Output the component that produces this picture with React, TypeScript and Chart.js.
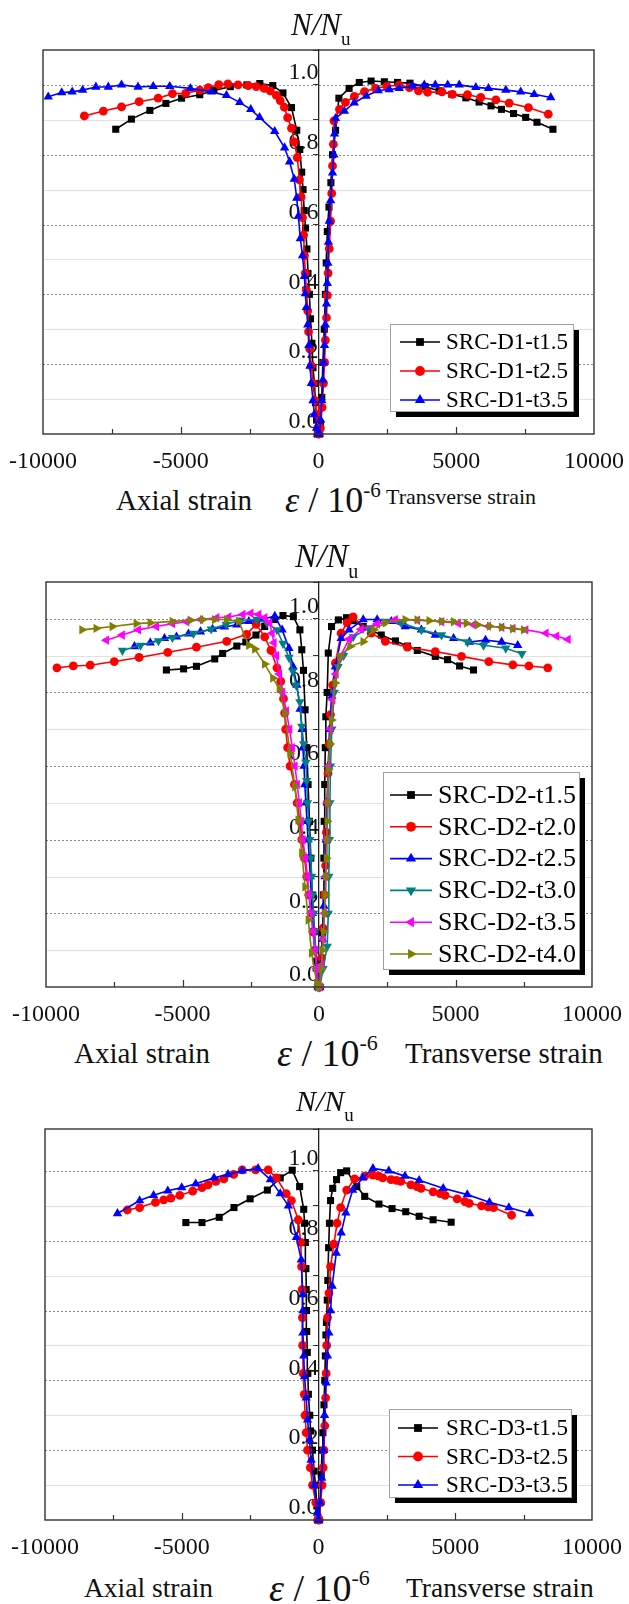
import React, { useEffect, useRef } from 'react';
import { Chart, registerables } from 'chart.js';

Chart.register(...registerables);

type Pair = [number, number];

// Strain in microstrain (negative = axial, positive = transverse), load ratio N/Nu.

// ---- SRC-D1 ----
const D1_T15_AXIAL: Pair[] = [[-40,0],[-70,0.04],[-110,0.09],[-150,0.145],[-200,0.19],[-240,0.26],[-290,0.33],[-330,0.4],[-380,0.46],[-420,0.53],[-470,0.59],[-520,0.64],[-560,0.7],[-610,0.75],[-680,0.815],[-790,0.87],[-980,0.935],[-1290,0.977],[-1660,0.998],[-2130,1.004],[-2600,1.0],[-3200,0.995],[-3800,0.984],[-4310,0.972],[-4970,0.962],[-5540,0.947],[-6120,0.927],[-6790,0.902],[-7360,0.873]];
const D1_T15_TRANS: Pair[] = [[40,0],[70,0.03],[120,0.105],[160,0.205],[210,0.3],[250,0.4],[280,0.49],[320,0.58],[380,0.65],[450,0.72],[510,0.8],[620,0.87],[740,0.962],[1110,0.99],[1480,1.007],[1910,1.011],[2390,1.009],[2870,1.007],[3320,1.005],[3870,0.995],[4380,0.983],[4840,0.973],[5350,0.963],[5830,0.951],[6260,0.94],[6640,0.93],[7080,0.918],[7520,0.907],[7930,0.893],[8510,0.873]];
const D1_T25_AXIAL: Pair[] = [[-10,0],[-30,0.017],[-70,0.056],[-130,0.096],[-200,0.145],[-260,0.195],[-320,0.244],[-360,0.293],[-390,0.353],[-440,0.412],[-480,0.461],[-510,0.511],[-540,0.57],[-580,0.62],[-630,0.679],[-690,0.728],[-770,0.792],[-880,0.837],[-980,0.876],[-1120,0.906],[-1240,0.936],[-1390,0.955],[-1530,0.97],[-1750,0.983],[-1970,0.99],[-2260,0.995],[-2550,0.998],[-2920,1.0],[-3290,1.003],[-3620,1.001],[-4000,0.992],[-4310,0.985],[-4820,0.976],[-5300,0.975],[-5820,0.962],[-6510,0.952],[-7150,0.937],[-7810,0.925],[-8500,0.911]];
const D1_T25_TRANS: Pair[] = [[20,0],[70,0.017],[130,0.076],[180,0.145],[220,0.205],[250,0.269],[290,0.333],[320,0.397],[350,0.461],[390,0.531],[440,0.61],[480,0.689],[510,0.768],[540,0.83],[560,0.897],[760,0.93],[980,0.95],[1300,0.967],[1670,0.981],[2070,0.99],[2480,0.996],[2930,0.999],[3300,0.992],[3630,0.983],[3960,0.979],[4480,0.98],[4860,0.973],[5410,0.972],[5890,0.964],[6440,0.957],[6920,0.948],[7620,0.935],[8340,0.916]];
const D1_T35_AXIAL: Pair[] = [[-30,0],[-70,0.017],[-150,0.056],[-200,0.096],[-260,0.145],[-310,0.195],[-350,0.254],[-390,0.313],[-440,0.363],[-480,0.402],[-510,0.452],[-580,0.511],[-660,0.56],[-730,0.624],[-790,0.676],[-880,0.73],[-1050,0.78],[-1230,0.82],[-1590,0.867],[-2140,0.907],[-2460,0.93],[-2860,0.95],[-3340,0.97],[-3890,0.98],[-4650,0.99],[-5400,0.996],[-6000,0.996],[-6550,0.994],[-7150,1.0],[-7630,0.994],[-8080,0.994],[-8560,0.985],[-8940,0.98],[-9320,0.978],[-9810,0.966]];
const D1_T35_TRANS: Pair[] = [[30,0],[80,0.04],[120,0.096],[160,0.155],[190,0.205],[220,0.254],[250,0.313],[290,0.373],[320,0.432],[340,0.49],[360,0.55],[390,0.61],[440,0.669],[510,0.748],[560,0.8],[580,0.86],[620,0.904],[940,0.925],[1300,0.949],[1730,0.968],[2170,0.984],[2570,0.987],[2930,0.99],[3410,0.997],[3840,1.0],[4240,1.0],[4690,1.0],[5110,1.0],[5710,0.993],[6170,0.99],[6800,0.985],[7340,0.98],[7830,0.973],[8430,0.964]];

// ---- SRC-D2 ----
const D2_T15_AXIAL: Pair[] = [[-30,0],[-100,0.07],[-180,0.15],[-250,0.25],[-300,0.35],[-350,0.45],[-400,0.55],[-450,0.65],[-510,0.753],[-570,0.86],[-630,0.916],[-700,0.97],[-940,1.006],[-1320,1.009],[-1620,0.998],[-1990,0.979],[-2310,0.956],[-2680,0.937],[-3010,0.926],[-3530,0.906],[-3820,0.891],[-4490,0.871],[-4960,0.864],[-5590,0.861]];
const D2_T15_TRANS: Pair[] = [[30,0],[80,0.07],[130,0.147],[160,0.25],[180,0.35],[190,0.45],[210,0.55],[230,0.65],[250,0.734],[300,0.8],[340,0.907],[460,0.979],[710,0.997],[1010,1.003],[1250,0.995],[1620,0.979],[2280,0.956],[2800,0.94],[3240,0.926],[3600,0.914],[4260,0.898],[4710,0.889],[5150,0.872],[5660,0.861]];
const D2_T20_AXIAL: Pair[] = [[-30,0],[-80,0.05],[-150,0.1],[-220,0.15],[-270,0.2],[-370,0.25],[-450,0.3],[-530,0.35],[-630,0.4],[-700,0.45],[-800,0.5],[-900,0.55],[-1060,0.6],[-1150,0.65],[-1220,0.7],[-1260,0.744],[-1300,0.783],[-1400,0.83],[-1540,0.867],[-1760,0.914],[-1990,0.951],[-2300,0.985],[-2650,0.958],[-3380,0.939],[-4490,0.923],[-5540,0.909],[-6590,0.895],[-7500,0.884],[-8380,0.874],[-9000,0.872],[-9600,0.867]];
const D2_T20_TRANS: Pair[] = [[30,0],[90,0.08],[150,0.16],[200,0.25],[240,0.33],[270,0.42],[300,0.5],[330,0.58],[370,0.66],[420,0.74],[500,0.82],[600,0.88],[810,0.961],[1030,0.989],[1250,1.005],[1910,0.961],[2430,0.939],[3240,0.923],[4260,0.911],[5220,0.898],[6220,0.884],[7100,0.875],[7690,0.872],[8380,0.867]];
const D2_T25_AXIAL: Pair[] = [[-30,0],[-80,0.05],[-150,0.1],[-200,0.15],[-240,0.2],[-280,0.25],[-320,0.3],[-360,0.35],[-400,0.4],[-440,0.45],[-480,0.5],[-520,0.55],[-550,0.6],[-590,0.65],[-620,0.7],[-690,0.755],[-810,0.82],[-950,0.87],[-1100,0.92],[-1350,0.97],[-1620,1.007],[-2130,0.998],[-2570,0.993],[-3010,0.984],[-3460,0.978],[-3900,0.972],[-4340,0.965],[-4780,0.959],[-5220,0.951],[-5660,0.947],[-6180,0.935],[-6760,0.925]];
const D2_T25_TRANS: Pair[] = [[30,0],[80,0.06],[130,0.13],[180,0.22],[220,0.3],[260,0.4],[300,0.5],[340,0.6],[390,0.7],[470,0.79],[600,0.87],[810,0.947],[1100,0.97],[1620,0.998],[2130,0.998],[2650,0.993],[3160,0.979],[3750,0.97],[4260,0.956],[4930,0.947],[5510,0.937],[6100,0.942],[6690,0.937],[7280,0.928]];
const D2_T30_AXIAL: Pair[] = [[-30,0],[-80,0.05],[-120,0.1],[-160,0.15],[-200,0.2],[-240,0.25],[-270,0.3],[-300,0.35],[-340,0.4],[-380,0.45],[-420,0.5],[-450,0.56],[-480,0.61],[-560,0.66],[-630,0.708],[-700,0.774],[-840,0.82],[-960,0.858],[-1100,0.895],[-1320,0.933],[-1540,0.97],[-1910,0.989],[-2280,0.998],[-2870,0.996],[-3400,0.985],[-3950,0.972],[-4600,0.96],[-5370,0.949],[-5880,0.94],[-6540,0.928],[-7200,0.914]];
const D2_T30_TRANS: Pair[] = [[30,0],[150,0.05],[300,0.11],[340,0.2],[360,0.3],[380,0.4],[400,0.5],[420,0.6],[470,0.7],[560,0.8],[700,0.87],[900,0.9],[1250,0.951],[1840,0.975],[2430,0.993],[3010,0.989],[3750,0.97],[4490,0.956],[5440,0.937],[6030,0.928],[6840,0.92],[7430,0.905]];
const D2_T35_AXIAL: Pair[] = [[-30,0],[-80,0.05],[-150,0.1],[-220,0.15],[-300,0.2],[-370,0.25],[-420,0.3],[-500,0.35],[-590,0.4],[-650,0.45],[-720,0.5],[-800,0.55],[-880,0.6],[-980,0.65],[-1080,0.7],[-1200,0.75],[-1330,0.8],[-1450,0.85],[-1560,0.9],[-1650,0.935],[-1720,0.961],[-1810,0.989],[-1990,1.003],[-2210,1.012],[-2500,1.015],[-2790,1.012],[-3310,1.005],[-3750,1.003],[-4340,0.998],[-4850,0.992],[-5370,0.987],[-5960,0.979],[-6620,0.97],[-7210,0.956],[-7790,0.942]];
const D2_T35_TRANS: Pair[] = [[30,0],[90,0.06],[150,0.13],[200,0.2],[240,0.3],[280,0.4],[320,0.5],[360,0.6],[420,0.7],[500,0.78],[620,0.85],[800,0.9],[1100,0.945],[1540,0.972],[2130,0.986],[2790,0.998],[3600,0.996],[4490,0.992],[5100,0.988],[5660,0.984],[6200,0.98],[6690,0.977],[7100,0.974],[7570,0.97],[8310,0.961],[8700,0.953],[9120,0.944]];
const D2_T40_AXIAL: Pair[] = [[-30,0],[-80,0.01],[-270,0.092],[-390,0.182],[-510,0.272],[-630,0.364],[-760,0.454],[-880,0.544],[-1060,0.635],[-1250,0.744],[-1450,0.81],[-1690,0.839],[-1990,0.877],[-2350,0.918],[-2570,0.928],[-2940,0.993],[-3380,0.998],[-3820,0.998],[-4260,0.998],[-4710,0.996],[-5370,0.993],[-6180,0.989],[-6690,0.987],[-7570,0.979],[-8160,0.974],[-8680,0.97]];
const D2_T40_TRANS: Pair[] = [[30,0],[80,0.05],[130,0.1],[170,0.15],[200,0.2],[230,0.25],[250,0.3],[270,0.35],[290,0.4],[300,0.45],[320,0.5],[340,0.59],[400,0.66],[460,0.725],[590,0.826],[770,0.898],[1140,0.925],[1620,0.938],[2000,0.97],[2430,0.989],[3160,0.998],[3600,0.997],[4040,0.995],[4500,0.993],[4930,0.992],[5400,0.988],[5810,0.984],[6250,0.98],[6690,0.977],[7100,0.973],[7500,0.97]];

// ---- SRC-D3 ----
const D3_T15_AXIAL: Pair[] = [[-30,0],[-60,0.04],[-110,0.1],[-160,0.14],[-220,0.2],[-290,0.255],[-320,0.3],[-370,0.36],[-390,0.42],[-410,0.48],[-430,0.54],[-440,0.6],[-450,0.66],[-460,0.72],[-480,0.795],[-510,0.85],[-540,0.89],[-690,0.955],[-960,1.002],[-1400,0.98],[-1870,0.945],[-2500,0.92],[-3090,0.895],[-3630,0.867],[-4260,0.852],[-4850,0.852]];
const D3_T15_TRANS: Pair[] = [[30,0],[60,0.05],[100,0.13],[130,0.2],[160,0.25],[200,0.33],[230,0.4],[250,0.47],[270,0.53],[290,0.566],[320,0.63],[340,0.686],[370,0.78],[400,0.85],[440,0.915],[520,0.95],[660,0.975],[810,0.995],[1030,1.0],[1400,0.955],[1690,0.927],[2210,0.905],[2690,0.892],[3190,0.883],[3680,0.87],[4190,0.86],[4850,0.853]];
const D3_T25_AXIAL: Pair[] = [[-30,0],[-100,0.05],[-220,0.1],[-300,0.15],[-400,0.2],[-450,0.25],[-490,0.3],[-520,0.36],[-560,0.42],[-580,0.5],[-590,0.58],[-600,0.66],[-620,0.726],[-650,0.795],[-740,0.86],[-990,0.915],[-1180,0.935],[-1540,0.98],[-1840,1.003],[-2300,1.003],[-2790,1.003],[-3100,0.99],[-3460,0.977],[-3750,0.97],[-4040,0.96],[-4260,0.952],[-4600,0.942],[-5070,0.93],[-5400,0.922],[-5660,0.917],[-5960,0.91],[-6540,0.895],[-6990,0.888]];
const D3_T25_TRANS: Pair[] = [[30,0],[80,0.05],[130,0.1],[170,0.15],[200,0.2],[230,0.27],[260,0.35],[280,0.42],[300,0.5],[330,0.58],[380,0.65],[440,0.726],[560,0.79],[680,0.85],[810,0.895],[1030,0.945],[1320,0.977],[1690,0.985],[1990,0.988],[2200,0.985],[2350,0.98],[2650,0.975],[2850,0.973],[3010,0.97],[3380,0.96],[3600,0.955],[3750,0.95],[4190,0.94],[4450,0.935],[4630,0.93],[5070,0.92],[5350,0.912],[5510,0.907],[5960,0.9],[6200,0.897],[6400,0.895],[7060,0.873]];
const D3_T35_AXIAL: Pair[] = [[-10,0],[-40,0.02],[-160,0.1],[-270,0.172],[-330,0.23],[-400,0.287],[-450,0.35],[-510,0.411],[-540,0.47],[-570,0.536],[-570,0.6],[-580,0.646],[-630,0.745],[-810,0.81],[-1100,0.9],[-1400,0.935],[-1760,0.975],[-2210,1.007],[-2790,1.0],[-3310,0.99],[-3820,0.98],[-4490,0.963],[-5000,0.952],[-5510,0.943],[-6030,0.93],[-6540,0.915],[-7350,0.878]];
const D3_T35_TRANS: Pair[] = [[10,0],[60,0.05],[120,0.12],[180,0.2],[220,0.3],[280,0.393],[330,0.47],[380,0.536],[440,0.6],[500,0.67],[650,0.765],[830,0.823],[1000,0.88],[1250,0.945],[1620,0.98],[1990,1.007],[2570,1.0],[3160,0.985],[3680,0.973],[4560,0.95],[5440,0.932],[6250,0.91],[6960,0.895],[7720,0.878]];

const D1_LABELS = ['SRC-D1-t1.5', 'SRC-D1-t2.5', 'SRC-D1-t3.5'];
const D2_LABELS = ['SRC-D2-t1.5', 'SRC-D2-t2.0', 'SRC-D2-t2.5', 'SRC-D2-t3.0', 'SRC-D2-t3.5', 'SRC-D2-t4.0'];
const D3_LABELS = ['SRC-D3-t1.5', 'SRC-D3-t2.5', 'SRC-D3-t3.5'];

const X_TICK_LABELS = [-10000, -5000, 0, 5000, 10000];
const Y_TICK_LABELS = [0, 0.2, 0.4, 0.6, 0.8, 1.0];

type Marker = { color: string; style: 'rect' | 'circle' | 'triangle'; rotation: number; radius: number };

// Origin-style symbol sequence
const MARKERS: Marker[] = [
  { color: '#000000', style: 'rect', rotation: 0, radius: 5 },
  { color: '#ff0000', style: 'circle', rotation: 0, radius: 4.4 },
  { color: '#0000ff', style: 'triangle', rotation: 0, radius: 5.4 },
  { color: '#008080', style: 'triangle', rotation: 180, radius: 5.4 },
  { color: '#ff00ff', style: 'triangle', rotation: 270, radius: 5.4 },
  { color: '#808000', style: 'triangle', rotation: 90, radius: 5.4 },
];

const SERIF = '"Liberation Serif", "Times New Roman", Times, serif';
const W = 629;

type LegendCfg = { x: number; y: number; w: number; h: number; rowTop: number; rowH: number; lineX0: number; lineX1: number; textX: number; fontSize: number };

type PanelCfg = {
  canvasTop: number;
  canvasH: number;
  box: { left: number; right: number; top: number; bottom: number };
  yMax: number;
  labels: string[];
  series: { axial: Pair[]; trans: Pair[] }[];
  legend: LegendCfg;
  title: { left: number; top: number; size: number; subSize: number; subDrop: number };
  axisTitle: { top: number; axialLeft: number; axialSize: number; epsLeft: number; epsSize: number; supSize: number; transLeft: number; transSize: number; transTop: number };
};

const PANELS: PanelCfg[] = [
  {
    canvasTop: 0, canvasH: 474,
    box: { left: 43, right: 595, top: 50, bottom: 434 },
    yMax: 1.1,
    labels: D1_LABELS,
    series: [
      { axial: D1_T15_AXIAL, trans: D1_T15_TRANS },
      { axial: D1_T25_AXIAL, trans: D1_T25_TRANS },
      { axial: D1_T35_AXIAL, trans: D1_T35_TRANS },
    ],
    legend: { x: 390, y: 324, w: 183, h: 87, rowTop: 342, rowH: 29, lineX0: 400, lineX1: 440, textX: 446, fontSize: 23 },
    title: { left: 291, top: 9, size: 31, subSize: 19, subDrop: 10 },
    axisTitle: { top: 500, axialLeft: 116, axialSize: 29, epsLeft: 285, epsSize: 36, supSize: 21, transLeft: 386, transSize: 22, transTop: 497 },
  },
  {
    canvasTop: 540, canvasH: 487,
    box: { left: 46, right: 592, top: 582, bottom: 987 },
    yMax: 1.1,
    labels: D2_LABELS,
    series: [
      { axial: D2_T15_AXIAL, trans: D2_T15_TRANS },
      { axial: D2_T20_AXIAL, trans: D2_T20_TRANS },
      { axial: D2_T25_AXIAL, trans: D2_T25_TRANS },
      { axial: D2_T30_AXIAL, trans: D2_T30_TRANS },
      { axial: D2_T35_AXIAL, trans: D2_T35_TRANS },
      { axial: D2_T40_AXIAL, trans: D2_T40_TRANS },
    ],
    legend: { x: 383, y: 772, w: 196, h: 197, rowTop: 795, rowH: 31.8, lineX0: 390, lineX1: 432, textX: 438, fontSize: 26 },
    title: { left: 295, top: 540, size: 33, subSize: 20, subDrop: 11 },
    axisTitle: { top: 1053, axialLeft: 74, axialSize: 29, epsLeft: 277, epsSize: 38, supSize: 22, transLeft: 405, transSize: 29, transTop: 1053 },
  },
  {
    canvasTop: 1080, canvasH: 480,
    box: { left: 45, right: 592, top: 1129, bottom: 1520 },
    yMax: 1.12,
    labels: D3_LABELS,
    series: [
      { axial: D3_T15_AXIAL, trans: D3_T15_TRANS },
      { axial: D3_T25_AXIAL, trans: D3_T25_TRANS },
      { axial: D3_T35_AXIAL, trans: D3_T35_TRANS },
    ],
    legend: { x: 389, y: 1409, w: 182, h: 88, rowTop: 1428, rowH: 28.5, lineX0: 398, lineX1: 438, textX: 446, fontSize: 23 },
    title: { left: 296, top: 1086, size: 30, subSize: 19, subDrop: 10 },
    axisTitle: { top: 1588, axialLeft: 84, axialSize: 27.5, epsLeft: 269, epsSize: 38, supSize: 22, transLeft: 406, transSize: 27.5, transTop: 1588 },
  },
];

function drawMarker(ctx: CanvasRenderingContext2D, m: Marker, x: number, y: number) {
  const r = m.radius;
  ctx.save();
  ctx.fillStyle = m.color;
  ctx.beginPath();
  if (m.style === 'rect') {
    const s = r * Math.SQRT1_2;
    ctx.rect(x - s, y - s, 2 * s, 2 * s);
  } else if (m.style === 'circle') {
    ctx.arc(x, y, r, 0, Math.PI * 2);
  } else {
    let rad = (m.rotation * Math.PI) / 180;
    ctx.moveTo(x + Math.sin(rad) * r, y - Math.cos(rad) * r);
    for (let i = 0; i < 2; i++) {
      rad += (2 * Math.PI) / 3;
      ctx.lineTo(x + Math.sin(rad) * r, y - Math.cos(rad) * r);
    }
    ctx.closePath();
  }
  ctx.fill();
  ctx.restore();
}

function makeFramePlugin(cfg: PanelCfg) {
  return {
    id: 'frameAndLegend',
    beforeDraw(chart: any) {
      const { ctx, chartArea: a, scales } = chart;
      ctx.save();
      ctx.lineWidth = 1;
      for (let k = 1; k <= 10; k++) {
        const py = Math.round(scales.y.getPixelForValue(k / 10)) + 0.5;
        ctx.beginPath();
        if (k % 2 === 0) {
          ctx.setLineDash([2, 2]);
          ctx.strokeStyle = '#8a8a8a';
        } else {
          ctx.setLineDash([]);
          ctx.strokeStyle = '#e0e0e0';
        }
        ctx.moveTo(a.left, py);
        ctx.lineTo(a.right, py);
        ctx.stroke();
      }
      ctx.restore();
    },
    afterDraw(chart: any) {
      const { ctx, chartArea: a, scales } = chart;
      ctx.save();
      // plot frame
      ctx.strokeStyle = '#333';
      ctx.lineWidth = 1.4;
      ctx.strokeRect(a.left, a.top, a.right - a.left, a.bottom - a.top);
      // inward ticks on the strain axis
      ctx.lineWidth = 1.2;
      for (let v = -7500; v <= 7500; v += 2500) {
        if (v === 0) continue;
        const px = Math.round(scales.x.getPixelForValue(v)) + 0.5;
        const len = v % 5000 === 0 ? 7 : 5;
        ctx.beginPath();
        ctx.moveTo(px, a.bottom);
        ctx.lineTo(px, a.bottom - len);
        ctx.stroke();
      }
      // legend
      const L = cfg.legend;
      const off = cfg.canvasTop;
      ctx.fillStyle = '#000';
      ctx.fillRect(L.x + 6, L.y - off + 6, L.w, L.h);
      ctx.fillStyle = '#fff';
      ctx.fillRect(L.x, L.y - off, L.w, L.h);
      ctx.strokeStyle = '#a0a0a0';
      ctx.lineWidth = 1;
      ctx.strokeRect(L.x + 0.5, L.y - off + 0.5, L.w, L.h);
      cfg.labels.forEach((label, i) => {
        const m = MARKERS[i];
        const ry = L.rowTop - off + i * L.rowH;
        ctx.strokeStyle = m.color;
        ctx.lineWidth = 1.6;
        ctx.beginPath();
        ctx.moveTo(L.lineX0, ry);
        ctx.lineTo(L.lineX1, ry);
        ctx.stroke();
        drawMarker(ctx, { ...m, radius: m.radius + 0.5 }, (L.lineX0 + L.lineX1) / 2, ry);
        ctx.fillStyle = '#000';
        ctx.font = `${L.fontSize}px ${SERIF}`;
        ctx.textBaseline = 'middle';
        ctx.textAlign = 'left';
        ctx.fillText(label, L.textX, ry + 1);
      });
      ctx.restore();
    },
  };
}

function toPoints(axial: Pair[], trans: Pair[]) {
  return [
    ...axial.map(([x, y]) => ({ x, y })),
    { x: 0, y: null as number | null },
    ...trans.map(([x, y]) => ({ x, y })),
  ];
}

function Panel({ cfg }: { cfg: PanelCfg }) {
  const ref = useRef<HTMLCanvasElement>(null);

  useEffect(() => {
    const canvas = ref.current;
    if (!canvas) return;
    const { box, canvasTop, canvasH } = cfg;
    const xAxisH = canvasH - (box.bottom - canvasTop);
    const tickFont = { family: SERIF, size: 24 };

    const chart = new Chart(canvas, {
      type: 'scatter',
      data: {
        datasets: cfg.series.map((s, i) => {
          const m = MARKERS[i];
          return {
            label: cfg.labels[i],
            data: toPoints(s.axial, s.trans) as any,
            showLine: true,
            spanGaps: false,
            borderColor: m.color,
            backgroundColor: m.color,
            borderWidth: 1.6,
            pointStyle: m.style,
            pointRotation: m.rotation,
            pointRadius: m.radius,
            pointHoverRadius: m.radius,
            pointBorderWidth: 0,
            pointBackgroundColor: m.color,
            clip: false as any,
            order: -i,
          };
        }),
      },
      options: {
        animation: false,
        responsive: false,
        events: [],
        layout: {
          padding: { left: box.left, right: W - box.right, top: box.top - canvasTop, bottom: 0 },
        },
        plugins: { legend: { display: false }, tooltip: { enabled: false } },
        scales: {
          x: {
            type: 'linear',
            min: -10000,
            max: 10000,
            afterFit: (scale: any) => {
              scale.height = xAxisH;
            },
            border: { display: false },
            grid: { display: false },
            ticks: {
              stepSize: 2500,
              autoSkip: false,
              maxRotation: 0,
              padding: 5,
              color: '#111',
              font: tickFont,
              callback: (v: any) => (X_TICK_LABELS.includes(Number(v)) ? String(v) : ''),
            },
          },
          y: {
            type: 'linear',
            min: 0,
            max: cfg.yMax,
            position: { x: 0 } as any,
            border: { display: true, color: '#222', width: 1.3 },
            grid: { drawOnChartArea: false, drawTicks: true, tickLength: 5, tickColor: '#333', tickWidth: 1 },
            ticks: {
              stepSize: 0.1,
              autoSkip: false,
              padding: 24,
              labelOffset: -12,
              color: '#111',
              font: tickFont,
              callback: (v: any) => {
                const k = Math.round(Number(v) * 10) / 10;
                return Y_TICK_LABELS.some((t) => Math.abs(t - k) < 1e-6) && Math.abs(Number(v) - k) < 1e-6
                  ? k.toFixed(1)
                  : '';
              },
            },
          },
        },
      },
      plugins: [makeFramePlugin(cfg)],
    });
    return () => chart.destroy();
  }, [cfg]);

  const t = cfg.title;
  const at = cfg.axisTitle;
  const base: React.CSSProperties = { position: 'absolute', fontFamily: SERIF, lineHeight: 1, whiteSpace: 'nowrap', color: '#111' };

  return (
    <>
      <canvas
        ref={ref}
        width={W}
        height={cfg.canvasH}
        style={{ position: 'absolute', left: 0, top: cfg.canvasTop, width: W, height: cfg.canvasH }}
      />
      <div style={{ ...base, left: t.left, top: t.top, fontSize: t.size, fontStyle: 'italic' }}>
        N/N
        <span style={{ fontStyle: 'normal', fontSize: t.subSize, position: 'relative', top: t.subDrop }}>u</span>
      </div>
      <div style={{ ...base, left: at.axialLeft, top: at.top - at.axialSize / 2, fontSize: at.axialSize }}>Axial strain</div>
      <div style={{ ...base, left: at.epsLeft, top: at.top - at.epsSize / 2, fontSize: at.epsSize }}>
        <span style={{ fontStyle: 'italic' }}>ε</span> / 10
        <span style={{ fontSize: at.supSize, position: 'relative', top: -at.epsSize * 0.42 }}>-6</span>
      </div>
      <div style={{ ...base, left: at.transLeft, top: at.transTop - at.transSize / 2, fontSize: at.transSize }}>Transverse strain</div>
    </>
  );
}

export default function App() {
  return (
    <div style={{ position: 'absolute', left: 0, top: 0, width: W, height: 1604, background: '#fff', overflow: 'hidden' }}>
      {PANELS.map((p, i) => (
        <Panel key={i} cfg={p} />
      ))}
    </div>
  );
}
